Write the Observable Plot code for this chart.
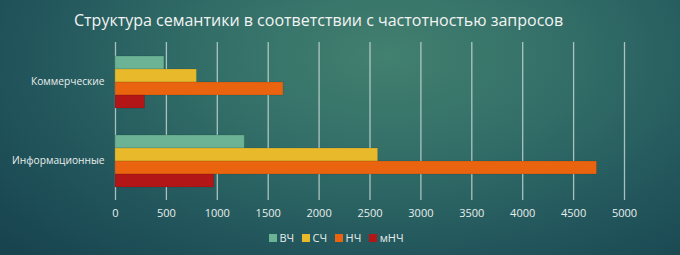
<!DOCTYPE html>
<html>
<head>
<meta charset="utf-8">
<script src="https://cdn.jsdelivr.net/npm/d3@7"></script>
<script src="https://cdn.jsdelivr.net/npm/@observablehq/plot@0.6"></script>
<style>
  html, body { margin: 0; padding: 0; }
  body {
    width: 680px; height: 255px; overflow: hidden; position: relative;
    background: radial-gradient(ellipse 75% 110% at 57% 22%, #42806f 0%, #336f68 35%, #22565c 70%, #18444f 100%);
    font-family: "Open Sans", sans-serif;
  }
  #title {
    position: absolute; left: 74px; top: 9px;
    font-size: 16px; color: #f2f4f3; white-space: nowrap;
  }
  #chart { position: absolute; left: 0; top: 0; }
  #legend { position: absolute; left: 0; width: 680px; top: 221px; display: flex; justify-content: center; }
  .lg-swatch { margin-right: 0.7em !important; }
  .lg-swatch svg { margin-right: 0.25em !important; }
</style>
</head>
<body>
<div id="title">Структура семантики в соответствии с частотностью запросов</div>
<div id="chart"></div>
<div id="legend"></div>
<script>
const categories = ["Коммерческие", "Информационные"];
const series = ["ВЧ", "СЧ", "НЧ", "мНЧ"];
const commercial = [480, 800, 1650, 290];
const informational = [1270, 2580, 4730, 970];
const xTicks = [0, 500, 1000, 1500, 2000, 2500, 3000, 3500, 4000, 4500, 5000];
const colors = ["#6bb394", "#e8b92b", "#ea6410", "#b21616"];

const data = [];
series.forEach((s, i) => {
  data.push({cat: categories[0], series: s, value: commercial[i]});
  data.push({cat: categories[1], series: s, value: informational[i]});
});

const plot = Plot.plot({
  width: 680,
  height: 255,
  marginTop: 42,
  marginBottom: 55,
  marginLeft: 115,
  marginRight: 56,
  style: {background: "transparent", color: "#e8eeec", fontSize: "11px", fontFamily: "Open Sans, sans-serif"},
  x: {domain: [0, 5000], ticks: xTicks, tickSize: 0, tickPadding: 9, label: null, tickFormat: d => String(d)},
  fy: {domain: categories, padding: 0, label: null, axis: null},
  y: {domain: series, paddingInner: 0, paddingOuter: 0.875, axis: null},
  color: {domain: series, range: colors},
  marks: [
    Plot.ruleX(xTicks, {stroke: "#d4e2df", strokeOpacity: 0.75, strokeWidth: 1.3}),
    Plot.barX(data, {fy: "cat", y: "series", x: "value", fill: "series", stroke: "#000", strokeOpacity: 0.1, strokeWidth: 1}),
    Plot.axisFy({anchor: "left", tickSize: 0, tickPadding: 11, label: null, fontSize: 10.2})
  ]
});
document.getElementById("chart").appendChild(plot);

const leg = plot.legend("color", {swatchSize: 8, className: "lg", style: {color: "#e8eeec", fontSize: "11px", fontFamily: "Open Sans, sans-serif", background: "transparent"}});
document.getElementById("legend").appendChild(leg);
</script>
</body>
</html>
